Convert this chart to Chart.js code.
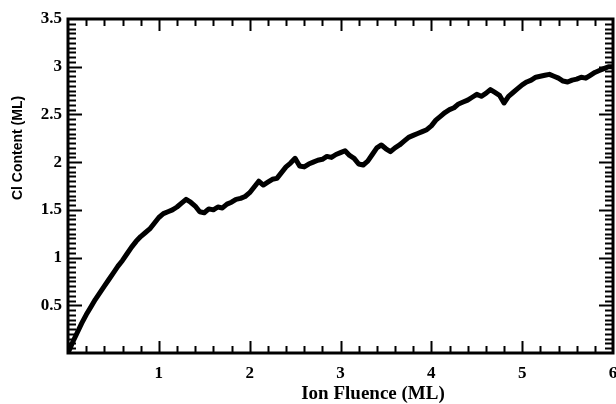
<!DOCTYPE html>
<html>
<head>
<meta charset="utf-8">
<script src="https://cdn.jsdelivr.net/npm/chart.js@4"></script>
<style>
  html, body { margin: 0; padding: 0; background: #fff; }
  #wrap { width: 616px; height: 404px; }
</style>
</head>
<body>
<div id="wrap"><canvas id="c" width="616" height="404"></canvas></div>
<script>
// ---- data ----
const fluence = [
  0.00,0.05,0.10,0.15,0.20,0.25,0.30,0.35,0.40,0.45,
  0.50,0.55,0.60,0.65,0.70,0.75,0.80,0.85,0.90,0.95,
  1.00,1.05,1.10,1.15,1.20,1.25,1.30,1.35,1.40,1.45,
  1.50,1.55,1.60,1.65,1.70,1.75,1.80,1.85,1.90,1.95,
  2.00,2.05,2.10,2.15,2.20,2.25,2.30,2.35,2.40,2.45,
  2.50,2.55,2.60,2.65,2.70,2.75,2.80,2.85,2.90,2.95,
  3.00,3.05,3.10,3.15,3.20,3.25,3.30,3.35,3.40,3.45,
  3.50,3.55,3.60,3.65,3.70,3.75,3.80,3.85,3.90,3.95,
  4.00,4.05,4.10,4.15,4.20,4.25,4.30,4.35,4.40,4.45,
  4.50,4.55,4.60,4.65,4.70,4.75,4.80,4.85,4.90,4.95,
  5.00,5.05,5.10,5.15,5.20,5.25,5.30,5.35,5.40,5.45,
  5.50,5.55,5.60,5.65,5.70,5.75,5.80,5.85,5.90,5.95,
  6.00
];
const clContent = [
  0.00,0.11,0.21,0.31,0.40,0.48,0.56,0.63,0.70,0.77,
  0.84,0.91,0.97,1.04,1.11,1.17,1.22,1.26,1.30,1.36,
  1.42,1.46,1.48,1.50,1.53,1.57,1.61,1.58,1.54,1.48,
  1.47,1.51,1.50,1.53,1.52,1.56,1.58,1.61,1.62,1.64,
  1.68,1.74,1.80,1.76,1.79,1.82,1.83,1.89,1.95,1.99,
  2.04,1.96,1.95,1.98,2.00,2.02,2.03,2.06,2.05,2.08,
  2.10,2.12,2.07,2.04,1.98,1.97,2.01,2.08,2.15,2.18,
  2.14,2.11,2.15,2.18,2.22,2.26,2.28,2.30,2.32,2.34,
  2.38,2.44,2.48,2.52,2.55,2.57,2.61,2.63,2.65,2.68,
  2.71,2.69,2.72,2.76,2.73,2.70,2.62,2.69,2.73,2.77,
  2.81,2.84,2.86,2.89,2.90,2.91,2.92,2.90,2.88,2.85,
  2.84,2.86,2.87,2.89,2.88,2.91,2.94,2.96,2.98,3.00,
  3.00
];
const xTickLabels = ['1','2','3','4','5','6'];
const yTickLabels = ['0.5','1','1.5','2','2.5','3','3.5'];
const xTitle = 'Ion Fluence (ML)';
const yTitle = 'Cl Content (ML)';

const points = fluence.map((f, i) => ({ x: f, y: clContent[i] }));

// frame + inward ticks drawn with the chart's scales
const frameTicks = {
  id: 'frameTicks',
  afterDatasetsDraw(chart) {
    const { ctx, chartArea: a, scales: { x, y } } = chart;
    ctx.save();
    ctx.strokeStyle = '#000';
    ctx.lineCap = 'butt';
    ctx.lineWidth = 2;
    ctx.beginPath();
    for (let i = 1; i < 30; i++) {
      const v = i * 0.2;
      const major = i % 5 === 0;
      const len = major ? 12 : 7;
      const px = Math.round(x.getPixelForValue(v)) + 0.5;
      ctx.moveTo(px, a.bottom); ctx.lineTo(px, a.bottom - len);
      ctx.moveTo(px, a.top); ctx.lineTo(px, a.top + len);
    }
    for (let i = 1; i < 70; i++) {
      const v = i * 0.05;
      const major = i % 10 === 0;
      const len = major ? 14 : 8;
      const py = Math.round(y.getPixelForValue(v)) + 0.5;
      ctx.moveTo(a.left, py); ctx.lineTo(a.left + len, py);
      ctx.moveTo(a.right, py); ctx.lineTo(a.right - len, py);
    }
    ctx.stroke();
    ctx.lineWidth = 3;
    ctx.strokeRect(a.left, a.top, a.right - a.left, a.bottom - a.top);

    // axis titles
    ctx.fillStyle = '#000';
    ctx.textAlign = 'center';
    ctx.textBaseline = 'middle';
    ctx.font = 'bold 19px "Liberation Serif", serif';
    ctx.fillText(xTitle, 373, 394);
    ctx.save();
    ctx.translate(18, 148);
    ctx.rotate(-Math.PI / 2);
    ctx.font = 'bold 14px "Liberation Sans", Arial, sans-serif';
    ctx.fillText(yTitle, 0, 0);
    ctx.restore();
    ctx.restore();
  }
};

new Chart(document.getElementById('c'), {
  type: 'line',
  data: {
    datasets: [{
      data: points,
      borderColor: '#000',
      borderWidth: 5,
      pointRadius: 0,
      tension: 0,
      fill: false,
      borderJoinStyle: 'round',
      borderCapStyle: 'round'
    }]
  },
  options: {
    responsive: false,
    animation: false,
    events: [],
    layout: { padding: { top: 19, right: 3, left: 0, bottom: 0 } },
    plugins: { legend: { display: false }, tooltip: { enabled: false }, title: { display: false } },
    scales: {
      x: {
        type: 'linear',
        min: 0, max: 6,
        afterFit(s) { s.height = 51; s.paddingLeft = 0; s.paddingRight = 0; },
        border: { display: false },
        grid: { display: false, drawTicks: false },
        ticks: {
          stepSize: 1,
          padding: 10,
          color: '#000',
          font: { family: '"Liberation Serif", serif', weight: 'bold', size: 17 },
          autoSkip: false,
          maxRotation: 0,
          callback: (v) => { const i = Math.round(v) - 1; return (i >= 0 && Math.abs(v - Math.round(v)) < 1e-6) ? xTickLabels[i] : ''; }
        }
      },
      y: {
        type: 'linear',
        min: 0, max: 3.5,
        afterFit(s) { s.width = 68; s.paddingTop = 0; s.paddingBottom = 0; },
        border: { display: false },
        grid: { display: false, drawTicks: false },
        ticks: {
          stepSize: 0.5,
          padding: 6,
          color: '#000',
          font: { family: '"Liberation Serif", serif', weight: 'bold', size: 17 },
          autoSkip: false,
          callback: (v) => { const i = Math.round(v * 2) - 1; return i >= 0 ? yTickLabels[i] : ''; }
        }
      }
    }
  },
  plugins: [frameTicks]
});
</script>
</body>
</html>
